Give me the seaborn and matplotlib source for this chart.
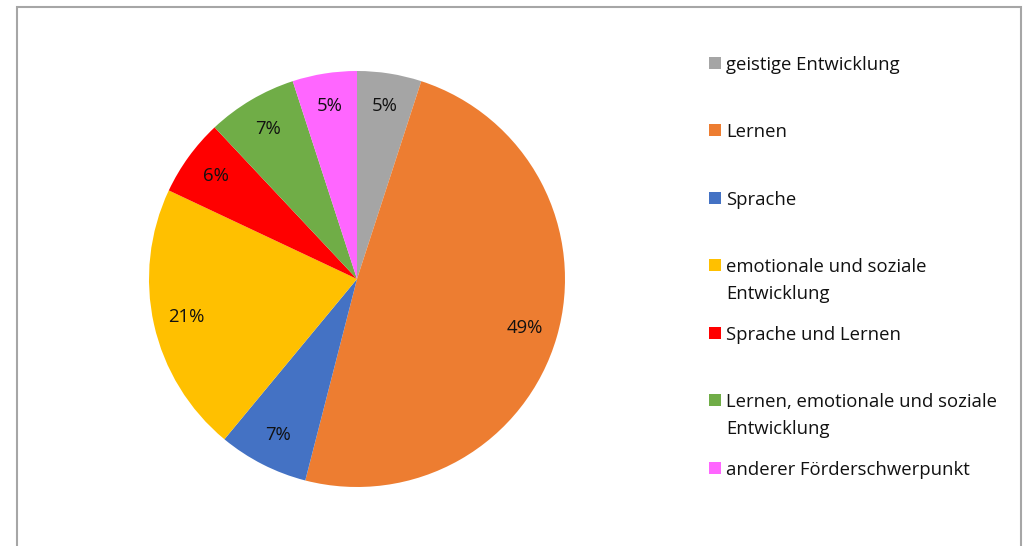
import matplotlib
matplotlib.use("Agg")
import matplotlib.pyplot as plt
import matplotlib.patches as mpatches
import seaborn as sns

# Förderschwerpunkte and their shares (%)
categories = [
    "geistige Entwicklung",
    "Lernen",
    "Sprache",
    "emotionale und soziale\nEntwicklung",
    "Sprache und Lernen",
    "Lernen, emotionale und soziale\nEntwicklung",
    "anderer Förderschwerpunkt",
]
shares = [5, 49, 7, 21, 6, 7, 5]
colors = ["#A5A5A5", "#ED7D31", "#4472C4", "#FFC000", "#FF0000", "#70AD47", "#FF66FF"]

sns.set_theme(style="white")
plt.rcParams["font.family"] = ["Open Sans", "DejaVu Sans"]

W, H = 1026, 546
fig = plt.figure(figsize=(W / 100, H / 100), dpi=100)
fig.patch.set_facecolor("white")

# outer chart frame (bottom edge runs off the canvas)
frame = mpatches.Rectangle((17 / W, -0.05), (1021 - 17) / W, 1.05 - 7 / H,
                           transform=fig.transFigure, fill=False,
                           edgecolor="#A6A6A6", linewidth=1.5)
fig.patches.append(frame)

# pie area
cx, cy, r = 357, 279, 208
ax = fig.add_axes([(cx - r) / W, (H - cy - r) / H, 2 * r / W, 2 * r / H])
wedges, texts, autotexts = ax.pie(
    shares, colors=colors, startangle=90, counterclock=False,
    autopct=lambda p: f"{p:.0f}%", pctdistance=0.84,
    wedgeprops=dict(linewidth=0),
    textprops=dict(fontsize=13.3, color="#111111"),
)
ax.set_aspect("equal")
ax.set_xlim(-1, 1)
ax.set_ylim(-1, 1)
ax.axis("off")

# legend entries, laid out like the Excel legend
entry_y = [63, 130, 198, 265, 333, 400, 468]
line_step = 27
sq = 12
for label, col, y in zip(categories, colors, entry_y):
    fig.patches.append(mpatches.Rectangle((709 / W, (H - y - sq / 2) / H), sq / W, sq / H,
                                          transform=fig.transFigure, facecolor=col,
                                          edgecolor="none"))
    for i, line in enumerate(label.split("\n")):
        fig.text(726 / W, (H - y - i * line_step) / H, line, fontsize=13.3,
                 color="#111111", ha="left", va="center_baseline",
                 transform=fig.transFigure)

fig.savefig("out.png", dpi=100, facecolor="white")
